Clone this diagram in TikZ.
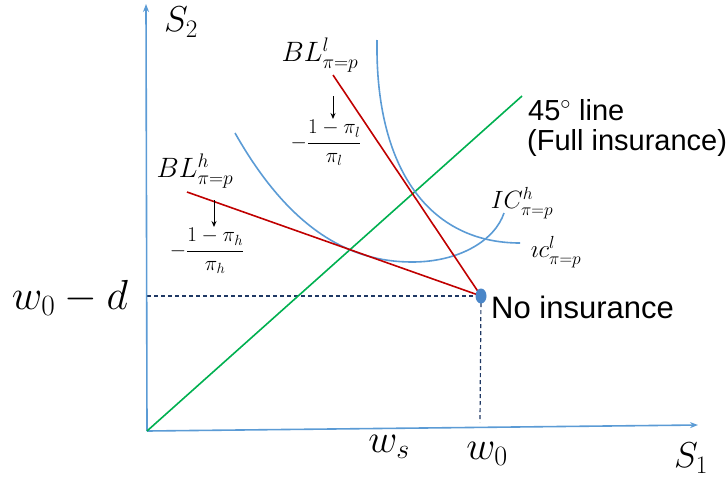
\RequirePackage{fix-cm}
\documentclass[tikz,border=0pt]{standalone}
\usepackage{fontspec}
\newfontfamily\sanslab{Liberation Sans}
\usetikzlibrary{arrows.meta}
\definecolor{axblue}{HTML}{5B9BD5}
\definecolor{dotblue}{HTML}{4A86C8}
\definecolor{bred}{HTML}{C00000}
\definecolor{fgreen}{HTML}{00B050}
\definecolor{dnavy}{HTML}{1F3864}
\tikzset{
  axis/.style={draw=axblue, line width=1.6pt, -{Stealth[length=8pt,width=6pt]}},
  iccurve/.style={draw=axblue, line width=1.6pt},
  budget/.style={draw=bred, line width=1.6pt},
  fortyfive/.style={draw=fgreen, line width=1.6pt},
  guide/.style={draw=dnavy, line width=1.2pt, dash pattern=on 4pt off 3pt},
  slopearrow/.style={draw=black, line width=1pt, -{Stealth[length=6pt,width=5pt]}},
  bigmath/.style={inner sep=0pt, font=\fontsize{42}{46}\selectfont},
  wmath/.style={inner sep=0pt, font=\fontsize{40}{44}\selectfont},
  axmath/.style={inner sep=0pt, font=\fontsize{36}{40}\selectfont},
  lblmath/.style={inner sep=0pt, font=\fontsize{28}{32}\selectfont},
  icmath/.style={inner sep=0pt, font=\fontsize{25}{28}\selectfont},
  fracmath/.style={inner sep=0pt, font=\fontsize{21}{24}\selectfont},
  sanstext/.style={inner sep=0pt, font=\sanslab\fontsize{29}{31}\selectfont},
  sansbig/.style={inner sep=0pt, font=\sanslab\fontsize{31}{33}\selectfont}
}
\begin{document}
\begin{tikzpicture}[x=1pt,y=-1pt]
\useasboundingbox (0,0) rectangle (727,483);
% coordinates
\coordinate (O) at (147,431);
\coordinate (Xend) at (698,425);
\coordinate (Yend) at (146,4);
\coordinate (E) at (481,296);
\coordinate (Ey) at (147,296);
\coordinate (Ex) at (480,422);
\coordinate (G) at (522,96);
\coordinate (BLlstart) at (333,75);
\coordinate (BLhstart) at (187,192);
% guides
\draw[guide] (Ey) -- (E);
\draw[guide] (E) -- (Ex);
% axes
\draw[axis] (O) -- (Xend);
\draw[axis] (O) -- (Yend);
% 45 degree line
\draw[fortyfive] (O) -- (G);
% indifference curves
\draw[iccurve] (377,40) .. controls (375,170) and (430,243) .. (520,243);
\draw[iccurve] (235,133) .. controls (290,230) and (350,262) .. (412,262)
  .. controls (460,262) and (495,240) .. (504,213);
% budget lines
\draw[budget] (BLlstart) -- (E);
\draw[budget] (BLhstart) -- (E);
% endowment dot
\fill[dotblue] (E) ellipse [x radius=5.5, y radius=7.5];
% labels
\node[bigmath] (wd) at (70,298) {$w_0-d$};
\node[wmath] (ws) at (389,447) {$w_s$};
\node[wmath] (w0) at (487,454) {$w_0$};
\node[axmath] (S1) at (691,458) {$S_1$};
\node[axmath] (S2) at (181,22) {$S_2$};
\node[lblmath] (BLl) at (320,55) {$BL^{l}_{\pi=p}$};
\node[lblmath] (BLh) at (195,171) {$BL^{h}_{\pi=p}$};
\node[icmath] (ICh) at (522,203) {$IC^{h}_{\pi=p}$};
\node[icmath] (ICl) at (556,252) {$\imath c^{l}_{\pi=p}$};
\node[fracmath] (fracl) at (326,143) {$\displaystyle -\frac{1-\pi_l}{\pi_l}$};
\node[fracmath] (frach) at (207,251) {$\displaystyle -\frac{1-\pi_h}{\pi_h}$};
\coordinate (al1) at (333,96);
\coordinate (al2) at (333,119);
\coordinate (ah1) at (214,200);
\coordinate (ah2) at (214,227);
\draw[slopearrow] (al1) -- (al2);
\draw[slopearrow] (ah1) -- (ah2);
\node[sansbig, anchor=base west] (noins) at (491,318) {No insurance};
\node[sanstext, anchor=base west] (l45) at (528,120) {45$^\circ$ line};
\node[sanstext, anchor=base west] (full) at (527,150) {(Full insurance)};
\end{tikzpicture}
\end{document}
